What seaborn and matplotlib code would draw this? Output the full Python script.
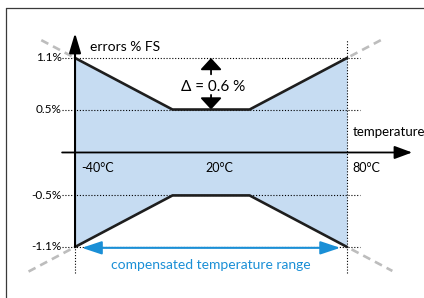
#Schematic of sensor error band over the compensated temperature range.

import matplotlib
matplotlib.use("Agg")
import matplotlib.pyplot as plt
import numpy as np
import pandas as pd
import seaborn as sns

# envelope corners (temperature in C, error in % FS)
temps = [-40, 3, 37, 80]
upper = [1.1, 0.5, 0.5, 1.1]
lower = [-1.1, -0.5, -0.5, -1.1]
tick_values = [1.1, 0.5, -0.5, -1.1]
tick_labels = ["1.1%", "0.5%", "-0.5%", "-1.1%"]
temp_labels = ["-40°C", "20°C", "80°C"]
delta_text = "Δ = 0.6 %"

sns.set_style("white")
plt.rcParams["font.family"] = ["Lato", "DejaVu Sans"]
plt.rcParams["text.color"] = "black"

fig = plt.figure(figsize=(4.24, 2.98), dpi=100)
ax = fig.add_axes([0, 0, 1, 1])
ax.set_xlim(-73.1, 113.95)
ax.set_ylim(-1.694, 1.775)
ax.axis("off")

# frame (only top and left edges visible)
ax.plot([6 / 424, 6 / 424], [0, 1 - 8 / 298], color="#3a3a3a", lw=0.9, transform=ax.transAxes)
ax.plot([6 / 424, 1], [1 - 8 / 298, 1 - 8 / 298], color="#3a3a3a", lw=0.9, transform=ax.transAxes)

band = pd.DataFrame({"temp": temps, "upper": upper, "lower": lower})
ax.fill_between(band["temp"], band["lower"], band["upper"], color="#c6dcf2", lw=0, zorder=1)

# dotted reference lines
dot = (0, (1, 1.6))
for v in tick_values:
    ax.plot([-45.7, 85.7], [v, v], color="black", lw=0.8, ls=dot, zorder=2)
ax.plot([80, 80], [-1.40, 1.31], color="black", lw=0.8, ls=dot, zorder=2)
ax.plot([-40, -40], [-1.40, -1.1], color="black", lw=0.8, ls=dot, zorder=2)

# gray dashed extensions of the sloped edges
slope = (upper[1] - upper[0]) / (temps[1] - temps[0])
for t0, t1, sign in [(-41.5, -55.5, 1), (81.5, 96, 1), (-42, -60.5, -1), (82, 100, -1)]:
    tt = np.array([t0, t1])
    yy = sign * (upper[0] + abs(tt - np.clip(tt, -40, 80)) * abs(slope))
    ax.plot(tt, yy, color="#bdbdbd", lw=1.9, dashes=(3, 2), zorder=2)

# envelope edges
sns.lineplot(data=band, x="temp", y="upper", color="#1e1e1e", lw=1.9, ax=ax, zorder=4)
sns.lineplot(data=band, x="temp", y="lower", color="#1e1e1e", lw=1.9, ax=ax, zorder=4)

# axes arrows
ax.annotate("", xy=(-40, 1.39), xytext=(-40, -1.1),
            arrowprops=dict(arrowstyle="-|>,head_length=0.6,head_width=0.18",
                            mutation_scale=20, color="black", lw=1.5, shrinkA=0, shrinkB=0), zorder=5)
ax.annotate("", xy=(108.7, 0), xytext=(-45.7, 0),
            arrowprops=dict(arrowstyle="-|>,head_length=0.54,head_width=0.2",
                            mutation_scale=20, color="black", lw=1.3, shrinkA=0, shrinkB=0), zorder=5)

# delta arrows
ax.annotate("", xy=(20, 1.1), xytext=(20, 0.91),
            arrowprops=dict(arrowstyle="-|>,head_length=0.36,head_width=0.33",
                            mutation_scale=20, color="black", lw=1.3, shrinkA=0, shrinkB=0))
ax.annotate("", xy=(20, 0.5), xytext=(20, 0.67),
            arrowprops=dict(arrowstyle="-|>,head_length=0.36,head_width=0.33",
                            mutation_scale=20, color="black", lw=1.3, shrinkA=0, shrinkB=0))

# compensated range arrow
blue = "#1a8fd6"
ax.annotate("", xy=(-37, -1.11), xytext=(77, -1.11),
            arrowprops=dict(arrowstyle="<|-|>,head_length=0.6,head_width=0.2",
                            mutation_scale=20, color=blue, lw=1.5, shrinkA=0, shrinkB=0))

# texts
for v, lab in zip(tick_values, tick_labels):
    ax.text(-45.9, v, lab, ha="right", va="center", fontsize=8.5)
ax.text(-33.4, 1.23, "errors % FS", ha="left", va="center", fontsize=10)
ax.text(21, 0.765, delta_text, ha="center", va="center", fontsize=11)
ax.text(82.5, 0.24, "temperature", ha="left", va="center", fontsize=9.5)
for t, lab in zip([-37.4, 17.3, 82.2], temp_labels):
    ax.text(t, -0.18, lab, ha="left", va="center", fontsize=9)
ax.text(20, -1.31, "compensated temperature range", ha="center", va="center",
        fontsize=10, color=blue)

fig.savefig("out.png", dpi=100)
